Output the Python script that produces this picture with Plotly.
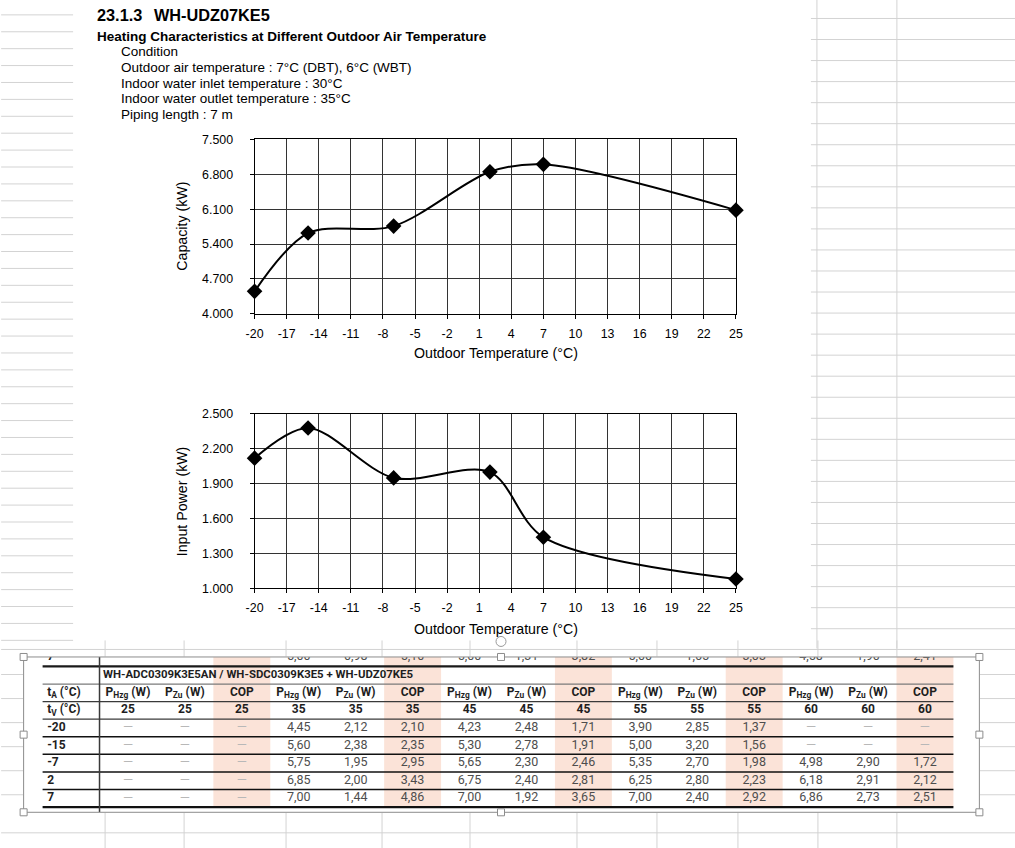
import numpy as np
import plotly.graph_objects as go

W, H = 1015, 848          # figure size
M = 8                     # body margin of the html page
SX, SY = (W + 2 * M) / W, (H + 2 * M) / H   # page (with margins) is fitted into the window
def px(x): return (x * SX - M) / W
def py(y): return 1 - (y * SY - M) / H

# ---------------- chart data ----------------
temps = [-20, -15, -7, 2, 7, 25]
capacity_kw = [4.45, 5.62, 5.76, 6.85, 7.00, 6.08]
input_power_kw = [2.12, 2.38, 1.95, 2.00, 1.44, 1.08]
x_ticks = list(range(-20, 26, 3))
x_tick_labels = [str(v) for v in x_ticks]
cap_ticks = [4.0, 4.7, 5.4, 6.1, 6.8, 7.5]
pow_ticks = [1.0, 1.3, 1.6, 1.9, 2.2, 2.5]

# ---------------- table data ----------------
table_title = "WH-ADC0309K3E5AN / WH-SDC0309K3E5 + WH-UDZ07KE5"
outdoor_temps = ["-20", "-15", "-7", "2", "7"]
flow_temps = [25, 35, 45, 55, 60]
p_hzg = [[None] * 5,
         [4.45, 5.60, 5.75, 6.85, 7.00],
         [4.23, 5.30, 5.65, 6.75, 7.00],
         [3.90, 5.00, 5.35, 6.25, 7.00],
         [None, None, 4.98, 6.18, 6.86]]
p_zu = [[None] * 5,
        [2.12, 2.38, 1.95, 2.00, 1.44],
        [2.48, 2.78, 2.30, 2.40, 1.92],
        [2.85, 3.20, 2.70, 2.80, 2.40],
        [None, None, 2.90, 2.91, 2.73]]
cop = [[None] * 5,
       [2.10, 2.35, 2.95, 3.43, 4.86],
       [1.71, 1.91, 2.46, 2.81, 3.65],
       [1.37, 1.56, 1.98, 2.23, 2.92],
       [None, None, 1.72, 2.12, 2.51]]
prev_row_label = "7"
prev_row = [None, None, None, 5.00, 0.98, 5.10, 5.00, 1.31, 3.82,
            5.00, 1.65, 3.03, 4.58, 1.90, 2.41]

ARIAL = "Liberation Sans, Arial, sans-serif"
NARROW = "Roboto, Liberation Sans, sans-serif"
DASH = "\u2014"

def fmt(v):
    return DASH if v is None else f"{v:.2f}".replace(".", ",")

fig = go.Figure()

# ---------------- charts ----------------
fig.add_trace(go.Scatter(
    x=temps, y=capacity_kw, mode="lines+markers",
    line=dict(color="black", width=2, shape="spline", smoothing=0.9),
    marker=dict(symbol="diamond", size=12, color="black"),
    xaxis="x", yaxis="y", cliponaxis=False))
fig.add_trace(go.Scatter(
    x=temps, y=input_power_kw, mode="lines+markers",
    line=dict(color="black", width=2, shape="spline", smoothing=0.9),
    marker=dict(symbol="diamond", size=12, color="black"),
    xaxis="x2", yaxis="y2", cliponaxis=False))

def xax(anchor):
    return dict(domain=[px(253.5), px(735)], anchor=anchor, range=[-20, 25],
                tickvals=x_ticks, ticktext=x_tick_labels, ticks="outside", ticklen=4,
                tickcolor="black",
                showline=True, mirror=True, linecolor="black", linewidth=1,
                showgrid=True, gridcolor="#333333", gridwidth=1, zeroline=False,
                tickfont=dict(family=ARIAL, size=12.4, color="black"),
                ticklabelstandoff=4, fixedrange=True)

def yax(anchor, rng, ticks, top, bottom):
    return dict(domain=[py(bottom), py(top)], anchor=anchor, range=rng,
                tickvals=ticks, tickformat=".3f", ticks="outside", ticklen=4,
                tickcolor="black", showline=True, mirror=True, linecolor="black",
                linewidth=1, showgrid=True, gridcolor="#333333", gridwidth=1,
                zeroline=False, tickfont=dict(family=ARIAL, size=12.4, color="black"),
                ticklabelstandoff=14, fixedrange=True)

# ---------------- table ----------------
tx, ty, tt = [], [], []
dx, dy = [], []
hx, hy, ht = [], [], []
lx, ly, lt = [], [], []

lx.append(0.08); ly.append(-0.52); lt.append(prev_row_label)
for j, v in enumerate(prev_row):
    if v is None:
        dx.append(j + 1.5); dy.append(-0.52)
    else:
        tx.append(j + 1.5); ty.append(-0.52); tt.append(fmt(v))

lx += [0.08, 0.08]; ly += [1.5, 2.5]
lt += ["t<sub>A</sub> (°C)", "t<sub>V</sub> (°C)"]
for r, t in enumerate(outdoor_temps):
    lx.append(0.08); ly.append(3.5 + r); lt.append(t)

for f, ft in enumerate(flow_temps):
    base = 1 + 3 * f
    heads = ["P<sub>Hzg</sub> (W)", "P<sub>Zu</sub> (W)", "COP"]
    series = [p_hzg[f], p_zu[f], cop[f]]
    for k in range(3):
        xc = base + k + 0.5
        hx += [xc, xc]; hy += [1.5, 2.5]; ht += [heads[k], str(ft)]
        for r, v in enumerate(series[k]):
            if v is None:
                dx.append(xc); dy.append(3.5 + r)
            else:
                tx.append(xc); ty.append(3.5 + r); tt.append(fmt(v))

fig.add_trace(go.Scatter(x=tx, y=ty, text=tt, mode="text", textposition="middle center",
                         textfont=dict(family=NARROW, size=12.5, color="#4d4d4d"),
                         xaxis="x3", yaxis="y3", cliponaxis=True))
fig.add_trace(go.Scatter(x=dx, y=dy, text=[DASH] * len(dx), mode="text",
                         textposition="middle center",
                         textfont=dict(family=NARROW, size=13, color="#b8b8b8"),
                         xaxis="x3", yaxis="y3", cliponaxis=True))
fig.add_trace(go.Scatter(x=hx, y=hy, text=ht, mode="text", textposition="middle center",
                         textfont=dict(family=NARROW, size=12, color="#1e1e1e", weight="bold"),
                         xaxis="x3", yaxis="y3", cliponaxis=True))
fig.add_trace(go.Scatter(x=lx, y=ly, text=lt, mode="text", textposition="middle right",
                         textfont=dict(family=NARROW, size=12, color="#1e1e1e", weight="bold"),
                         xaxis="x3", yaxis="y3", cliponaxis=True))
fig.add_trace(go.Scatter(x=[1.06], y=[0.5], text=[table_title], mode="text",
                         textposition="middle right",
                         textfont=dict(family=NARROW, size=11.4, color="#1e1e1e", weight="bold"),
                         xaxis="x3", yaxis="y3", cliponaxis=True))

x_lo = (22 - 41) / 57
x_hi = (979 - 41) / 57
y_top = (656.5 - 666) / 17.6
y_bot = (812 - 666) / 17.6

shapes = []
GRID = "#d3d3d3"
for y in np.arange(15.7, 650, 16.87):
    shapes.append(dict(type="line", xref="paper", yref="paper", x0=px(0), x1=px(72),
                       y0=py(y), y1=py(y), line=dict(color=GRID, width=1), layer="below"))
for y in np.arange(19.3, 645, 21.0):
    shapes.append(dict(type="line", xref="paper", yref="paper", x0=px(810), x1=px(1015),
                       y0=py(y), y1=py(y), line=dict(color=GRID, width=1), layer="below"))
for x in [816, 896]:
    shapes.append(dict(type="line", xref="paper", yref="paper", x0=px(x), x1=px(x),
                       y0=py(0), y1=py(648), line=dict(color=GRID, width=1), layer="below"))
for y in [649, 832]:
    shapes.append(dict(type="line", xref="paper", yref="paper", x0=px(0), x1=px(1015),
                       y0=py(y), y1=py(y), line=dict(color=GRID, width=1), layer="below"))
for y in [674, 698, 722, 746, 770, 794]:
    for a, b in [(0, 22), (979, 1015)]:
        shapes.append(dict(type="line", xref="paper", yref="paper", x0=px(a), x1=px(b),
                           y0=py(y), y1=py(y), line=dict(color=GRID, width=1), layer="below"))
for x in [104, 183, 285, 381, 469, 576, 656, 737, 817, 896]:
    for a, b in [(640, 656), (812, 848)]:
        shapes.append(dict(type="line", xref="paper", yref="paper", x0=px(x), x1=px(x),
                           y0=py(a), y1=py(b), line=dict(color=GRID, width=1), layer="below"))

shapes.append(dict(type="rect", xref="paper", yref="paper", x0=px(22.5), x1=px(978.5),
                   y0=py(811.5), y1=py(656.5), fillcolor="white", line=dict(width=0),
                   layer="below"))
for f in range(5):
    j = 3 + 3 * f
    shapes.append(dict(type="rect", xref="x3", yref="y3", x0=j, x1=j + 1,
                       y0=y_top, y1=8, fillcolor="#fbe3d8", line=dict(width=0),
                       layer="below"))
rule_styles = {0: ("#1a1a1a", 2.2), 1: ("#7a7a7a", 1.2), 2: ("#3a3a3a", 1.2),
               3: ("#3a3a3a", 1.2), 4: ("#111111", 1.5), 5: ("#111111", 1.5),
               6: ("#111111", 1.5), 7: ("#111111", 1.5), 8: ("#111111", 2.2)}
for yy, (c, w) in rule_styles.items():
    shapes.append(dict(type="line", xref="x3", yref="y3", x0=0, x1=16, y0=yy, y1=yy,
                       line=dict(color=c, width=w)))
shapes.append(dict(type="line", xref="x3", yref="y3", x0=1, x1=1, y0=y_top, y1=y_bot,
                   line=dict(color="#3a3a3a", width=1.5)))
shapes.append(dict(type="rect", xref="paper", yref="paper", x0=px(22.5), x1=px(978.5),
                   y0=py(811.5), y1=py(656.5), line=dict(color="#8c8c8c", width=1)))
for hx_, hy_ in [(22.5, 656.5), (500, 656.5), (978.5, 656.5), (22.5, 734),
                 (978.5, 734), (22.5, 811.5), (500, 811.5), (978.5, 811.5)]:
    shapes.append(dict(type="rect", xref="paper", yref="paper",
                       x0=px(hx_ - 3.5), x1=px(hx_ + 3.5), y0=py(hy_ + 3.5), y1=py(hy_ - 3.5),
                       fillcolor="white", line=dict(color="#8c8c8c", width=1)))
shapes.append(dict(type="circle", xref="paper", yref="paper", x0=px(495), x1=px(505),
                   y0=py(646), y1=py(636), fillcolor="white", line=dict(color="#9a9a9a", width=1)))

ann = []
def text(x, y, s, size=13.5, bold=False, xanchor="left", angle=0):
    ann.append(dict(x=px(x), y=py(y), xref="paper", yref="paper", text=s, showarrow=False,
                    xanchor=xanchor, yanchor="middle", textangle=angle,
                    font=dict(family=ARIAL, size=size, color="black",
                              weight="bold" if bold else "normal")))

text(94, 15.5, "23.1.3", size=16.3, bold=True)
text(151, 15.5, "WH-UDZ07KE5", size=16.3, bold=True)
text(94, 37, "Heating Characteristics at Different Outdoor Air Temperature", size=13.5, bold=True)
text(118, 52.5, "Condition")
text(118, 68.5, "Outdoor air temperature : 7°C (DBT), 6°C (WBT)")
text(118, 84, "Indoor water inlet temperature : 30°C")
text(118, 99.5, "Indoor water outlet temperature : 35°C")
text(118, 115.5, "Piping length : 7 m")

text(495, 353, "Outdoor Temperature (°C)", size=14.2, xanchor="center")
text(495, 629, "Outdoor Temperature (°C)", size=14.2, xanchor="center")
text(181, 227, "Capacity (kW)", size=14.2, xanchor="center", angle=-90)
text(181, 501, "Input Power (kW)", size=14.2, xanchor="center", angle=-90)

fig.update_layout(
    width=W, height=H, margin=dict(l=0, r=0, t=0, b=0),
    paper_bgcolor="white", plot_bgcolor="rgba(0,0,0,0)", showlegend=False,
    xaxis=xax("y"),
    yaxis=yax("x", [4.0, 7.5], cap_ticks, 140, 314),
    xaxis2=xax("y2"),
    yaxis2=yax("x2", [1.0, 2.5], pow_ticks, 414, 588),
    xaxis3=dict(domain=[px(22.5), px(978.5)], anchor="y3", range=[x_lo, x_hi],
                visible=False, fixedrange=True),
    yaxis3=dict(domain=[py(811.5), py(656.5)], anchor="x3", range=[y_bot, y_top],
                visible=False, fixedrange=True),
    shapes=shapes, annotations=ann,
)

fig.write_html("out.html")
